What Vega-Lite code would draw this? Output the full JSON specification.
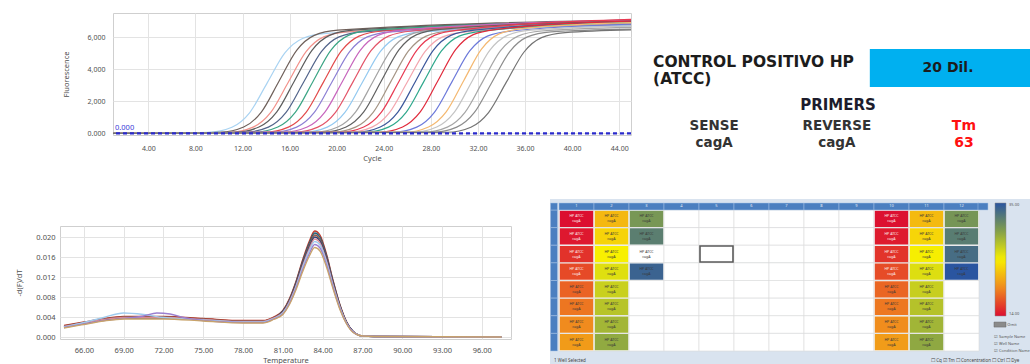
{
"$schema":"https://vega.github.io/schema/vega-lite/v6.json",
"padding":{"left":15,"top":12,"right":0,"bottom":0},
"background":"white",
"spacing":37,
"config":{"font":"Noto Sans","view":{"stroke":null},
"axis":{"labelFont":"Noto Sans","titleFont":"Noto Sans","labelFontSize":7,"titleFontSize":7.5,"titleFontWeight":"normal","labelColor":"#505050","titleColor":"#505050","gridColor":"#e3e3e3","domain":false,"ticks":false}},
"datasets":{
"amp":[
{"w":"01","c":1,"f":0},{"w":"01","c":9.1,"f":69},{"w":"01","c":11.1,"f":384},{"w":"01","c":12.6,"f":1285},{"w":"01","c":14.1,"f":3150},{"w":"01","c":15.6,"f":5015},{"w":"01","c":17.1,"f":5916},{"w":"01","c":19.1,"f":6231},{"w":"01","c":45,"f":6900},
{"w":"02","c":1,"f":0},{"w":"02","c":10.1,"f":72},{"w":"02","c":12.1,"f":397},{"w":"02","c":13.6,"f":1326},{"w":"02","c":15.1,"f":3250},{"w":"02","c":16.6,"f":5174},{"w":"02","c":18.1,"f":6104},{"w":"02","c":20.1,"f":6429},{"w":"02","c":45,"f":7050},
{"w":"03","c":1,"f":0},{"w":"03","c":10.9,"f":70},{"w":"03","c":12.9,"f":390},{"w":"03","c":14.4,"f":1306},{"w":"03","c":15.9,"f":3200},{"w":"03","c":17.4,"f":5094},{"w":"03","c":18.9,"f":6010},{"w":"03","c":20.9,"f":6330},{"w":"03","c":45,"f":6950},
{"w":"04","c":1,"f":0},{"w":"04","c":11.4,"f":72},{"w":"04","c":13.4,"f":397},{"w":"04","c":14.9,"f":1326},{"w":"04","c":16.4,"f":3250},{"w":"04","c":17.9,"f":5174},{"w":"04","c":19.4,"f":6104},{"w":"04","c":21.4,"f":6429},{"w":"04","c":45,"f":7000},
{"w":"05","c":1,"f":0},{"w":"05","c":12.2,"f":70},{"w":"05","c":14.2,"f":390},{"w":"05","c":15.7,"f":1306},{"w":"05","c":17.2,"f":3200},{"w":"05","c":18.7,"f":5094},{"w":"05","c":20.2,"f":6010},{"w":"05","c":22.2,"f":6330},{"w":"05","c":45,"f":6800},
{"w":"06","c":1,"f":0},{"w":"06","c":13,"f":72},{"w":"06","c":15,"f":397},{"w":"06","c":16.5,"f":1326},{"w":"06","c":18,"f":3250},{"w":"06","c":19.5,"f":5174},{"w":"06","c":21,"f":6104},{"w":"06","c":23,"f":6429},{"w":"06","c":45,"f":7000},
{"w":"07","c":1,"f":0},{"w":"07","c":13.9,"f":71},{"w":"07","c":15.9,"f":393},{"w":"07","c":17.4,"f":1316},{"w":"07","c":18.9,"f":3225},{"w":"07","c":20.4,"f":5134},{"w":"07","c":21.9,"f":6057},{"w":"07","c":23.9,"f":6379},{"w":"07","c":45,"f":6900},
{"w":"08","c":1,"f":0},{"w":"08","c":14.6,"f":70},{"w":"08","c":16.6,"f":390},{"w":"08","c":18.1,"f":1306},{"w":"08","c":19.6,"f":3200},{"w":"08","c":21.1,"f":5094},{"w":"08","c":22.6,"f":6010},{"w":"08","c":24.6,"f":6330},{"w":"08","c":45,"f":6750},
{"w":"09","c":1,"f":0},{"w":"09","c":15.5,"f":72},{"w":"09","c":17.5,"f":397},{"w":"09","c":19,"f":1326},{"w":"09","c":20.5,"f":3250},{"w":"09","c":22,"f":5174},{"w":"09","c":23.5,"f":6104},{"w":"09","c":25.5,"f":6429},{"w":"09","c":45,"f":7050},
{"w":"10","c":1,"f":0},{"w":"10","c":16.4,"f":71},{"w":"10","c":18.4,"f":393},{"w":"10","c":19.9,"f":1316},{"w":"10","c":21.4,"f":3225},{"w":"10","c":22.9,"f":5134},{"w":"10","c":24.4,"f":6057},{"w":"10","c":26.4,"f":6379},{"w":"10","c":45,"f":6950},
{"w":"11","c":1,"f":0},{"w":"11","c":17.2,"f":70},{"w":"11","c":19.2,"f":390},{"w":"11","c":20.7,"f":1306},{"w":"11","c":22.2,"f":3200},{"w":"11","c":23.7,"f":5094},{"w":"11","c":25.2,"f":6010},{"w":"11","c":27.2,"f":6330},{"w":"11","c":45,"f":6700},
{"w":"12","c":1,"f":0},{"w":"12","c":18.1,"f":72},{"w":"12","c":20.1,"f":397},{"w":"12","c":21.6,"f":1326},{"w":"12","c":23.1,"f":3250},{"w":"12","c":24.6,"f":5174},{"w":"12","c":26.1,"f":6104},{"w":"12","c":28.1,"f":6429},{"w":"12","c":45,"f":6900},
{"w":"13","c":1,"f":0},{"w":"13","c":18.8,"f":72},{"w":"13","c":20.8,"f":400},{"w":"13","c":22.3,"f":1336},{"w":"13","c":23.8,"f":3275},{"w":"13","c":25.3,"f":5214},{"w":"13","c":26.8,"f":6150},{"w":"13","c":28.8,"f":6478},{"w":"13","c":45,"f":7000},
{"w":"14","c":1,"f":0},{"w":"14","c":19.6,"f":71},{"w":"14","c":21.6,"f":393},{"w":"14","c":23.1,"f":1316},{"w":"14","c":24.6,"f":3225},{"w":"14","c":26.1,"f":5134},{"w":"14","c":27.6,"f":6057},{"w":"14","c":29.6,"f":6379},{"w":"14","c":45,"f":6800},
{"w":"15","c":1,"f":0},{"w":"15","c":20.3,"f":72},{"w":"15","c":22.3,"f":397},{"w":"15","c":23.8,"f":1326},{"w":"15","c":25.3,"f":3250},{"w":"15","c":26.8,"f":5174},{"w":"15","c":28.3,"f":6104},{"w":"15","c":30.3,"f":6429},{"w":"15","c":45,"f":7100},
{"w":"16","c":1,"f":0},{"w":"16","c":21,"f":70},{"w":"16","c":23,"f":390},{"w":"16","c":24.5,"f":1306},{"w":"16","c":26,"f":3200},{"w":"16","c":27.5,"f":5094},{"w":"16","c":29,"f":6010},{"w":"16","c":31,"f":6330},{"w":"16","c":45,"f":6850},
{"w":"17","c":1,"f":0},{"w":"17","c":21.7,"f":72},{"w":"17","c":23.7,"f":397},{"w":"17","c":25.2,"f":1326},{"w":"17","c":26.7,"f":3250},{"w":"17","c":28.2,"f":5174},{"w":"17","c":29.7,"f":6104},{"w":"17","c":31.7,"f":6429},{"w":"17","c":45,"f":6950},
{"w":"18","c":1,"f":0},{"w":"18","c":22.4,"f":71},{"w":"18","c":24.4,"f":393},{"w":"18","c":25.9,"f":1316},{"w":"18","c":27.4,"f":3225},{"w":"18","c":28.9,"f":5134},{"w":"18","c":30.4,"f":6057},{"w":"18","c":32.4,"f":6379},{"w":"18","c":45,"f":6900},
{"w":"19","c":1,"f":0},{"w":"19","c":23.6,"f":72},{"w":"19","c":25.6,"f":400},{"w":"19","c":27.1,"f":1336},{"w":"19","c":28.6,"f":3275},{"w":"19","c":30.1,"f":5214},{"w":"19","c":31.6,"f":6150},{"w":"19","c":33.6,"f":6478},{"w":"19","c":45,"f":7000},
{"w":"20","c":1,"f":0},{"w":"20","c":24.8,"f":71},{"w":"20","c":26.8,"f":393},{"w":"20","c":28.3,"f":1316},{"w":"20","c":29.8,"f":3225},{"w":"20","c":31.3,"f":5134},{"w":"20","c":32.8,"f":6057},{"w":"20","c":34.8,"f":6379},{"w":"20","c":45,"f":6800},
{"w":"21","c":1,"f":0},{"w":"21","c":25.8,"f":73},{"w":"21","c":27.8,"f":403},{"w":"21","c":29.3,"f":1346},{"w":"21","c":30.8,"f":3300},{"w":"21","c":32.3,"f":5254},{"w":"21","c":33.8,"f":6197},{"w":"21","c":35.8,"f":6527},{"w":"21","c":45,"f":6900},
{"w":"22","c":1,"f":0},{"w":"22","c":26.5,"f":72},{"w":"22","c":28.5,"f":397},{"w":"22","c":30,"f":1326},{"w":"22","c":31.5,"f":3250},{"w":"22","c":33,"f":5174},{"w":"22","c":34.5,"f":6104},{"w":"22","c":36.5,"f":6429},{"w":"22","c":45,"f":6700},
{"w":"23","c":1,"f":0},{"w":"23","c":27.4,"f":71},{"w":"23","c":29.4,"f":393},{"w":"23","c":30.9,"f":1316},{"w":"23","c":32.4,"f":3225},{"w":"23","c":33.9,"f":5134},{"w":"23","c":35.4,"f":6057},{"w":"23","c":37.4,"f":6379},{"w":"23","c":45,"f":6600},
{"w":"24","c":1,"f":0},{"w":"24","c":28.2,"f":70},{"w":"24","c":30.2,"f":390},{"w":"24","c":31.7,"f":1306},{"w":"24","c":33.2,"f":3200},{"w":"24","c":34.7,"f":5094},{"w":"24","c":36.2,"f":6010},{"w":"24","c":38.2,"f":6330},{"w":"24","c":45,"f":6500},
{"w":"25","c":1,"f":0},{"w":"25","c":29.4,"f":70},{"w":"25","c":31.4,"f":387},{"w":"25","c":32.9,"f":1295},{"w":"25","c":34.4,"f":3175},{"w":"25","c":35.9,"f":5055},{"w":"25","c":37.4,"f":5963},{"w":"25","c":39.4,"f":6280},{"w":"25","c":45,"f":6450}
],
"melt":[
{"k":"m1","t":64.5,"v":0.0023},{"k":"m1","t":66,"v":0.003},{"k":"m1","t":67.5,"v":0.0037},{"k":"m1","t":69,"v":0.0041},{"k":"m1","t":72,"v":0.0041},{"k":"m1","t":75,"v":0.0037},{"k":"m1","t":78,"v":0.0033},{"k":"m1","t":79.5,"v":0.0033},{"k":"m1","t":80.3,"v":0.004},{"k":"m1","t":81,"v":0.0053},{"k":"m1","t":81.5,"v":0.0077},{"k":"m1","t":82,"v":0.0112},{"k":"m1","t":82.5,"v":0.0155},{"k":"m1","t":83,"v":0.0192},{"k":"m1","t":83.4,"v":0.0212},{"k":"m1","t":83.8,"v":0.0204},{"k":"m1","t":84.3,"v":0.0165},{"k":"m1","t":84.8,"v":0.0112},{"k":"m1","t":85.3,"v":0.0065},{"k":"m1","t":85.8,"v":0.0031},{"k":"m1","t":86.3,"v":0.0011},{"k":"m1","t":87,"v":0.0002},{"k":"m1","t":88,"v":0.0001},{"k":"m1","t":97.5,"v":0},
{"k":"m2","t":64.5,"v":0.0021},{"k":"m2","t":66,"v":0.0028},{"k":"m2","t":67.5,"v":0.0035},{"k":"m2","t":69,"v":0.0039},{"k":"m2","t":72,"v":0.0039},{"k":"m2","t":75,"v":0.0035},{"k":"m2","t":78,"v":0.0031},{"k":"m2","t":79.5,"v":0.0031},{"k":"m2","t":80.3,"v":0.0038},{"k":"m2","t":81,"v":0.0052},{"k":"m2","t":81.5,"v":0.0075},{"k":"m2","t":82,"v":0.011},{"k":"m2","t":82.5,"v":0.0152},{"k":"m2","t":83,"v":0.0188},{"k":"m2","t":83.4,"v":0.0208},{"k":"m2","t":83.8,"v":0.02},{"k":"m2","t":84.3,"v":0.0162},{"k":"m2","t":84.8,"v":0.011},{"k":"m2","t":85.3,"v":0.0064},{"k":"m2","t":85.8,"v":0.003},{"k":"m2","t":86.3,"v":0.0011},{"k":"m2","t":87,"v":0.0002},{"k":"m2","t":88,"v":0.0001},{"k":"m2","t":97.5,"v":0},
{"k":"m3","t":64.5,"v":0.0022},{"k":"m3","t":66,"v":0.0029},{"k":"m3","t":67.5,"v":0.0036},{"k":"m3","t":69,"v":0.004},{"k":"m3","t":72,"v":0.004},{"k":"m3","t":75,"v":0.0036},{"k":"m3","t":78,"v":0.0032},{"k":"m3","t":79.5,"v":0.0032},{"k":"m3","t":80.3,"v":0.0039},{"k":"m3","t":81,"v":0.0051},{"k":"m3","t":81.5,"v":0.0074},{"k":"m3","t":82,"v":0.0108},{"k":"m3","t":82.5,"v":0.0149},{"k":"m3","t":83,"v":0.0184},{"k":"m3","t":83.4,"v":0.0204},{"k":"m3","t":83.8,"v":0.0196},{"k":"m3","t":84.3,"v":0.0159},{"k":"m3","t":84.8,"v":0.0108},{"k":"m3","t":85.3,"v":0.0063},{"k":"m3","t":85.8,"v":0.0029},{"k":"m3","t":86.3,"v":0.0011},{"k":"m3","t":87,"v":0.0002},{"k":"m3","t":88,"v":0.0001},{"k":"m3","t":97.5,"v":0},
{"k":"m4","t":64.5,"v":0.002},{"k":"m4","t":66,"v":0.0027},{"k":"m4","t":67.5,"v":0.0034},{"k":"m4","t":69,"v":0.0038},{"k":"m4","t":72,"v":0.0038},{"k":"m4","t":75,"v":0.0034},{"k":"m4","t":78,"v":0.003},{"k":"m4","t":79.5,"v":0.003},{"k":"m4","t":80.3,"v":0.0037},{"k":"m4","t":81,"v":0.005},{"k":"m4","t":81.5,"v":0.0072},{"k":"m4","t":82,"v":0.0106},{"k":"m4","t":82.5,"v":0.0146},{"k":"m4","t":83,"v":0.018},{"k":"m4","t":83.4,"v":0.02},{"k":"m4","t":83.8,"v":0.0192},{"k":"m4","t":84.3,"v":0.0156},{"k":"m4","t":84.8,"v":0.0106},{"k":"m4","t":85.3,"v":0.0061},{"k":"m4","t":85.8,"v":0.0029},{"k":"m4","t":86.3,"v":0.0011},{"k":"m4","t":87,"v":0.0002},{"k":"m4","t":88,"v":0.0001},{"k":"m4","t":97.5,"v":0},
{"k":"m5","t":64.5,"v":0.0021},{"k":"m5","t":66,"v":0.0028},{"k":"m5","t":67.5,"v":0.0035},{"k":"m5","t":69,"v":0.0039},{"k":"m5","t":72,"v":0.0039},{"k":"m5","t":75,"v":0.0035},{"k":"m5","t":78,"v":0.0031},{"k":"m5","t":79.5,"v":0.0031},{"k":"m5","t":80.3,"v":0.0038},{"k":"m5","t":81,"v":0.0049},{"k":"m5","t":81.5,"v":0.0071},{"k":"m5","t":82,"v":0.0103},{"k":"m5","t":82.5,"v":0.0143},{"k":"m5","t":83,"v":0.0177},{"k":"m5","t":83.4,"v":0.0196},{"k":"m5","t":83.8,"v":0.0188},{"k":"m5","t":84.3,"v":0.0152},{"k":"m5","t":84.8,"v":0.0103},{"k":"m5","t":85.3,"v":0.006},{"k":"m5","t":85.8,"v":0.0028},{"k":"m5","t":86.3,"v":0.001},{"k":"m5","t":87,"v":0.0002},{"k":"m5","t":88,"v":0.0001},{"k":"m5","t":97.5,"v":0},
{"k":"m6","t":64.5,"v":0.002},{"k":"m6","t":66,"v":0.0029},{"k":"m6","t":67.5,"v":0.0039},{"k":"m6","t":69,"v":0.0048},{"k":"m6","t":70.5,"v":0.0045},{"k":"m6","t":72,"v":0.0039},{"k":"m6","t":75,"v":0.0034},{"k":"m6","t":78,"v":0.003},{"k":"m6","t":79.5,"v":0.003},{"k":"m6","t":80.3,"v":0.0037},{"k":"m6","t":81,"v":0.0048},{"k":"m6","t":81.5,"v":0.0069},{"k":"m6","t":82,"v":0.0101},{"k":"m6","t":82.5,"v":0.014},{"k":"m6","t":83,"v":0.0173},{"k":"m6","t":83.4,"v":0.0191},{"k":"m6","t":83.8,"v":0.0184},{"k":"m6","t":84.3,"v":0.0149},{"k":"m6","t":84.8,"v":0.0101},{"k":"m6","t":85.3,"v":0.0059},{"k":"m6","t":85.8,"v":0.0028},{"k":"m6","t":86.3,"v":0.001},{"k":"m6","t":87,"v":0.0002},{"k":"m6","t":88,"v":0.0001},{"k":"m6","t":97.5,"v":0},
{"k":"m7","t":64.5,"v":0.0019},{"k":"m7","t":66,"v":0.0026},{"k":"m7","t":67.5,"v":0.0033},{"k":"m7","t":69,"v":0.0037},{"k":"m7","t":70.5,"v":0.0042},{"k":"m7","t":71.5,"v":0.0048},{"k":"m7","t":72.5,"v":0.0046},{"k":"m7","t":73.5,"v":0.0039},{"k":"m7","t":75,"v":0.0033},{"k":"m7","t":78,"v":0.0029},{"k":"m7","t":79.5,"v":0.0029},{"k":"m7","t":80.3,"v":0.0036},{"k":"m7","t":81,"v":0.0046},{"k":"m7","t":81.5,"v":0.0067},{"k":"m7","t":82,"v":0.0098},{"k":"m7","t":82.5,"v":0.0135},{"k":"m7","t":83,"v":0.0167},{"k":"m7","t":83.4,"v":0.0185},{"k":"m7","t":83.8,"v":0.0178},{"k":"m7","t":84.3,"v":0.0144},{"k":"m7","t":84.8,"v":0.0098},{"k":"m7","t":85.3,"v":0.0057},{"k":"m7","t":85.8,"v":0.0027},{"k":"m7","t":86.3,"v":0.001},{"k":"m7","t":87,"v":0.0002},{"k":"m7","t":88,"v":0.0001},{"k":"m7","t":97.5,"v":0},
{"k":"m8","t":64.5,"v":0.0018},{"k":"m8","t":66,"v":0.0025},{"k":"m8","t":67.5,"v":0.0032},{"k":"m8","t":69,"v":0.0036},{"k":"m8","t":72,"v":0.0036},{"k":"m8","t":75,"v":0.0032},{"k":"m8","t":78,"v":0.0028},{"k":"m8","t":79.5,"v":0.0028},{"k":"m8","t":80.3,"v":0.0035},{"k":"m8","t":81,"v":0.0045},{"k":"m8","t":81.5,"v":0.0065},{"k":"m8","t":82,"v":0.0095},{"k":"m8","t":82.5,"v":0.0131},{"k":"m8","t":83,"v":0.0162},{"k":"m8","t":83.4,"v":0.0179},{"k":"m8","t":83.8,"v":0.0172},{"k":"m8","t":84.3,"v":0.0139},{"k":"m8","t":84.8,"v":0.0095},{"k":"m8","t":85.3,"v":0.0055},{"k":"m8","t":85.8,"v":0.0026},{"k":"m8","t":86.3,"v":0.0009},{"k":"m8","t":87,"v":0.0002},{"k":"m8","t":88,"v":0.0001},{"k":"m8","t":97.5,"v":0}
],
"wells":[
{"r":1,"c":1,"smp":"HP ATCC","tg":"cagA","ct":14.0},{"r":2,"c":1,"smp":"HP ATCC","tg":"cagA","ct":14.4},{"r":3,"c":1,"smp":"HP ATCC","tg":"cagA","ct":15.5},{"r":4,"c":1,"smp":"HP ATCC","tg":"cagA","ct":16.5},{"r":5,"c":1,"smp":"HP ATCC","tg":"cagA","ct":17.6},{"r":6,"c":1,"smp":"HP ATCC","tg":"cagA","ct":18.4},{"r":7,"c":1,"smp":"HP ATCC","tg":"cagA","ct":19.3},{"r":8,"c":1,"smp":"HP ATCC","tg":"cagA","ct":20.1},
{"r":1,"c":2,"smp":"HP ATCC","tg":"cagA","ct":21.6},{"r":2,"c":2,"smp":"HP ATCC","tg":"cagA","ct":23.0},{"r":3,"c":2,"smp":"HP ATCC","tg":"cagA","ct":24.5},{"r":4,"c":2,"smp":"HP ATCC","tg":"cagA","ct":25.6},{"r":5,"c":2,"smp":"HP ATCC","tg":"cagA","ct":26.6},{"r":6,"c":2,"smp":"HP ATCC","tg":"cagA","ct":27.4},{"r":7,"c":2,"smp":"HP ATCC","tg":"cagA","ct":28.3},{"r":8,"c":2,"smp":"HP ATCC","tg":"cagA","ct":29.1},
{"r":1,"c":3,"smp":"HP ATCC","tg":"cagA","ct":30.4},{"r":2,"c":3,"smp":"HP ATCC","tg":"cagA","ct":32.1},{"r":3,"c":3,"smp":"HP ATCC","tg":"cagA","ct":null},{"r":4,"c":3,"smp":"HP ATCC","tg":"cagA","ct":34.0},{"r":5,"c":3},{"r":6,"c":3},{"r":7,"c":3},{"r":8,"c":3},
{"r":1,"c":4},{"r":2,"c":4},{"r":3,"c":4},{"r":4,"c":4},{"r":5,"c":4},{"r":6,"c":4},{"r":7,"c":4},{"r":8,"c":4},
{"r":1,"c":5},{"r":2,"c":5},{"r":3,"c":5,"sel":true},{"r":4,"c":5},{"r":5,"c":5},{"r":6,"c":5},{"r":7,"c":5},{"r":8,"c":5},
{"r":1,"c":6},{"r":2,"c":6},{"r":3,"c":6},{"r":4,"c":6},{"r":5,"c":6},{"r":6,"c":6},{"r":7,"c":6},{"r":8,"c":6},
{"r":1,"c":7},{"r":2,"c":7},{"r":3,"c":7},{"r":4,"c":7},{"r":5,"c":7},{"r":6,"c":7},{"r":7,"c":7},{"r":8,"c":7},
{"r":1,"c":8},{"r":2,"c":8},{"r":3,"c":8},{"r":4,"c":8},{"r":5,"c":8},{"r":6,"c":8},{"r":7,"c":8},{"r":8,"c":8},
{"r":1,"c":9},{"r":2,"c":9},{"r":3,"c":9},{"r":4,"c":9},{"r":5,"c":9},{"r":6,"c":9},{"r":7,"c":9},{"r":8,"c":9},
{"r":1,"c":10,"smp":"HP ATCC","tg":"cagA","ct":14.1},{"r":2,"c":10,"smp":"HP ATCC","tg":"cagA","ct":14.5},{"r":3,"c":10,"smp":"HP ATCC","tg":"cagA","ct":15.6},{"r":4,"c":10,"smp":"HP ATCC","tg":"cagA","ct":16.6},{"r":5,"c":10,"smp":"HP ATCC","tg":"cagA","ct":17.7},{"r":6,"c":10,"smp":"HP ATCC","tg":"cagA","ct":18.5},{"r":7,"c":10,"smp":"HP ATCC","tg":"cagA","ct":19.4},{"r":8,"c":10,"smp":"HP ATCC","tg":"cagA","ct":20.2},
{"r":1,"c":11,"smp":"HP ATCC","tg":"cagA","ct":21.7},{"r":2,"c":11,"smp":"HP ATCC","tg":"cagA","ct":23.1},{"r":3,"c":11,"smp":"HP ATCC","tg":"cagA","ct":24.6},{"r":4,"c":11,"smp":"HP ATCC","tg":"cagA","ct":25.7},{"r":5,"c":11,"smp":"HP ATCC","tg":"cagA","ct":26.7},{"r":6,"c":11,"smp":"HP ATCC","tg":"cagA","ct":27.5},{"r":7,"c":11,"smp":"HP ATCC","tg":"cagA","ct":28.4},{"r":8,"c":11,"smp":"HP ATCC","tg":"cagA","ct":29.2},
{"r":1,"c":12,"smp":"HP ATCC","tg":"cagA","ct":30.5},{"r":2,"c":12,"smp":"HP ATCC","tg":"cagA","ct":32.2},{"r":3,"c":12,"smp":"HP ATCC","tg":"cagA","ct":33.3},{"r":4,"c":12,"smp":"HP ATCC","tg":"cagA","ct":35.0},{"r":5,"c":12},{"r":6,"c":12},{"r":7,"c":12},{"r":8,"c":12}
]
},
"vconcat":[
{"spacing":0,"hconcat":[
{"width":1,"height":122,"data":{"values":[{}]},"mark":{"type":"text","text":""},"encoding":{}},
{"width":518,"height":122,"view":{"stroke":"#cfcfcf"},
"layer":[
{"data":{"name":"amp"},
"mark":{"type":"line","interpolate":"monotone","strokeWidth":1.2},
"encoding":{
"x":{"field":"c","type":"quantitative","scale":{"domain":[1,45],"nice":false,"zero":false},"axis":{"values":[4,8,12,16,20,24,28,32,36,40,44],"format":".2f","title":"Cycle","labelPadding":9,"titlePadding":3}},
"y":{"field":"f","type":"quantitative","scale":{"domain":[-100,7500],"nice":false,"zero":false},"axis":{"values":[0,2000,4000,6000],"labelExpr":"datum.value == 0 ? '0.000' : format(datum.value, ',')","title":"Fluorescence","labelPadding":8,"titlePadding":17}},
"color":{"field":"w","type":"nominal","legend":null,"scale":{"range":["#a9d3f2","#6f605a","#f2918a","#5c5c5c","#52648a","#3ba584","#e24a4a","#8c7fd4","#c765bd","#e35468","#93c9f0","#a3a3a3","#606060","#a49484","#e83a52","#f3a5ad","#3b579b","#2fa88c","#e02a3c","#6c79da","#f4b870","#c4c4c4","#a5a5a5","#8c8c8c","#737373"]}}}},
{"data":{"values":[{"thr":0}]},
"mark":{"type":"rule","color":"#2a2acb","strokeWidth":2.2,"strokeDash":[4,3]},
"encoding":{"y":{"field":"thr","type":"quantitative","scale":{"domain":[-100,7500],"nice":false,"zero":false},"axis":{"values":[0,2000,4000,6000],"labelExpr":"datum.value == 0 ? '0.000' : format(datum.value, ',')","title":"Fluorescence","labelPadding":8,"titlePadding":17}}}},
{"data":{"values":[{"thr":0}]},
"mark":{"type":"text","align":"left","baseline":"bottom","dx":2,"dy":-1,"fontSize":7.5,"color":"#3a3ad8"},
"encoding":{
"x":{"datum":1,"type":"quantitative","scale":{"domain":[1,45],"nice":false,"zero":false},"axis":{"values":[4,8,12,16,20,24,28,32,36,40,44],"format":".2f","title":"Cycle","labelPadding":9,"titlePadding":3}},
"y":{"field":"thr","type":"quantitative","scale":{"domain":[-100,7500],"nice":false,"zero":false},"axis":{"values":[0,2000,4000,6000],"labelExpr":"datum.value == 0 ? '0.000' : format(datum.value, ',')","title":"Fluorescence","labelPadding":8,"titlePadding":17}},
"text":{"field":"thr","type":"quantitative","format":".3f"}}}
]},
{"width":397,"height":122,
"data":{"values":[{"sample":"CONTROL POSITIVO HP","strain":"(ATCC)","dil":"20 Dil.","sense":"cagA","reverse":"cagA","tm":63}]},
"layer":[
{"mark":{"type":"rect","color":"#00b0f0"},"encoding":{"x":{"datum":59.4,"type":"quantitative","scale":{"domain":[0,100]},"axis":null},"x2":{"datum":100},"y":{"datum":70.5,"type":"quantitative","scale":{"domain":[0,100]},"axis":null},"y2":{"datum":39.3}}},
{"mark":{"type":"text","align":"left","baseline":"middle","font":"DejaVu Sans","fontWeight":"bold","fontSize":15.5,"color":"#1c1c1c"},"encoding":{"x":{"datum":4.8,"type":"quantitative","scale":{"domain":[0,100]},"axis":null},"y":{"datum":59.8,"type":"quantitative","scale":{"domain":[0,100]},"axis":null},"text":{"field":"sample"}}},
{"mark":{"type":"text","align":"left","baseline":"middle","font":"DejaVu Sans","fontWeight":"bold","fontSize":15.5,"color":"#1c1c1c"},"encoding":{"x":{"datum":4.8,"type":"quantitative","scale":{"domain":[0,100]},"axis":null},"y":{"datum":45.9,"type":"quantitative","scale":{"domain":[0,100]},"axis":null},"text":{"field":"strain"}}},
{"mark":{"type":"text","align":"center","baseline":"middle","font":"DejaVu Sans","fontWeight":"bold","fontSize":14,"color":"#1c1c1c"},"encoding":{"x":{"datum":79.1,"type":"quantitative","scale":{"domain":[0,100]},"axis":null},"y":{"datum":54.9,"type":"quantitative","scale":{"domain":[0,100]},"axis":null},"text":{"field":"dil"}}},
{"mark":{"type":"text","text":"PRIMERS","align":"center","baseline":"middle","font":"DejaVu Sans","fontWeight":"bold","fontSize":15,"color":"#1c1c2c"},"encoding":{"x":{"datum":51.4,"type":"quantitative","scale":{"domain":[0,100]},"axis":null},"y":{"datum":24.6,"type":"quantitative","scale":{"domain":[0,100]},"axis":null}}},
{"mark":{"type":"text","text":"SENSE","align":"center","baseline":"middle","font":"DejaVu Sans","fontWeight":"bold","fontSize":13.5,"color":"#333333"},"encoding":{"x":{"datum":20.2,"type":"quantitative","scale":{"domain":[0,100]},"axis":null},"y":{"datum":7.4,"type":"quantitative","scale":{"domain":[0,100]},"axis":null}}},
{"mark":{"type":"text","align":"center","baseline":"middle","font":"DejaVu Sans","fontWeight":"bold","fontSize":13.5,"color":"#333333"},"encoding":{"x":{"datum":20.2,"type":"quantitative","scale":{"domain":[0,100]},"axis":null},"y":{"datum":-6.6,"type":"quantitative","scale":{"domain":[0,100]},"axis":null},"text":{"field":"sense"}}},
{"mark":{"type":"text","text":"REVERSE","align":"center","baseline":"middle","font":"DejaVu Sans","fontWeight":"bold","fontSize":13.5,"color":"#333333"},"encoding":{"x":{"datum":51.1,"type":"quantitative","scale":{"domain":[0,100]},"axis":null},"y":{"datum":7.4,"type":"quantitative","scale":{"domain":[0,100]},"axis":null}}},
{"mark":{"type":"text","align":"center","baseline":"middle","font":"DejaVu Sans","fontWeight":"bold","fontSize":13.5,"color":"#333333"},"encoding":{"x":{"datum":51.1,"type":"quantitative","scale":{"domain":[0,100]},"axis":null},"y":{"datum":-6.6,"type":"quantitative","scale":{"domain":[0,100]},"axis":null},"text":{"field":"reverse"}}},
{"mark":{"type":"text","text":"Tm","align":"center","baseline":"middle","font":"DejaVu Sans","fontWeight":"bold","fontSize":14,"color":"#ff1010"},"encoding":{"x":{"datum":83.1,"type":"quantitative","scale":{"domain":[0,100]},"axis":null},"y":{"datum":7.4,"type":"quantitative","scale":{"domain":[0,100]},"axis":null}}},
{"mark":{"type":"text","align":"center","baseline":"middle","font":"DejaVu Sans","fontWeight":"bold","fontSize":14,"color":"#ff1010"},"encoding":{"x":{"datum":83.1,"type":"quantitative","scale":{"domain":[0,100]},"axis":null},"y":{"datum":-6.6,"type":"quantitative","scale":{"domain":[0,100]},"axis":null},"text":{"field":"tm","type":"quantitative"}}}
]}
]},
{"spacing":38,"hconcat":[
{"width":451,"height":113,"view":{"stroke":"#cfcfcf"},
"data":{"name":"melt"},
"mark":{"type":"line","interpolate":"monotone","strokeWidth":1.3},
"encoding":{
"x":{"field":"t","type":"quantitative","scale":{"domain":[64.2,98.2],"nice":false,"zero":false},"axis":{"values":[66,69,72,75,78,81,84,87,90,93,96],"format":".2f","title":"Temperature","labelPadding":7,"titlePadding":3,"labelFontSize":7.5}},
"y":{"field":"v","type":"quantitative","scale":{"domain":[-0.0004,0.0222],"nice":false,"zero":false},"axis":{"values":[0,0.004,0.008,0.012,0.016,0.02],"format":".3f","title":"-d(F)/dT","labelPadding":5,"titlePadding":12,"labelFontSize":7.5}},
"color":{"field":"k","type":"nominal","legend":null,"scale":{"range":["#c0392b","#1f6078","#8a5446","#2e3f72","#d98a94","#9fcbee","#9b7fcf","#c8a36a"]}}}},
{"width":481,"height":138,
"data":{"name":"wells"},
"layer":[
{"transform":[{"filter":"datum.c == 1 && datum.r == 1"}],
"mark":{"type":"rect","fill":"#d9e3ef"},
"encoding":{"x":{"datum":0.243,"type":"quantitative","scale":{"domain":[0.243,13.986],"nice":false,"zero":false},"axis":null},"x2":{"datum":13.986},"y":{"datum":-0.124,"type":"quantitative","scale":{"domain":[1.4077,9.2374],"nice":false,"zero":false,"reverse":true},"axis":null},"y2":{"datum":9.2374}}},
{"mark":{"type":"rect","width":35,"height":17.6,"fill":"#ffffff","stroke":"#dcdcdc","strokeWidth":0.6},
"encoding":{"x":{"field":"c","type":"quantitative","scale":{"domain":[0.243,13.986],"nice":false,"zero":false},"axis":null},"y":{"field":"r","type":"quantitative","scale":{"domain":[1.4077,9.2374],"nice":false,"zero":false,"reverse":true},"axis":null}}},
{"transform":[{"filter":"datum.smp != null"}],
"mark":{"type":"rect","width":33.4,"height":16.2},
"encoding":{"x":{"field":"c","type":"quantitative","scale":{"domain":[0.243,13.986],"nice":false,"zero":false},"axis":null},"y":{"field":"r","type":"quantitative","scale":{"domain":[1.4077,9.2374],"nice":false,"zero":false,"reverse":true},"axis":null},
"color":{"condition":{"test":"datum.ct == null","value":"#858585"},"field":"ct","type":"quantitative","scale":{"domain":[14,35],"range":["#dc0f30","#f08a1e","#f8f000","#83a04a","#2a55a0"],"interpolate":"rgb"},
"legend":{"title":null,"orient":"none","legendX":445,"legendY":-23,"direction":"vertical","gradientLength":113,"gradientThickness":11,"labelFontSize":4,"labelColor":"#555555","values":[14,35],"format":".2f","gradientStrokeColor":"#8a8a8a","gradientStrokeWidth":0.5,"labelOffset":3}}}},
{"transform":[{"filter":"datum.sel == true"}],
"mark":{"type":"rect","width":33,"height":16,"fill":"#ffffff","stroke":"#5a5a5a","strokeWidth":1.6},
"encoding":{"x":{"field":"c","type":"quantitative","scale":{"domain":[0.243,13.986],"nice":false,"zero":false},"axis":null},"y":{"field":"r","type":"quantitative","scale":{"domain":[1.4077,9.2374],"nice":false,"zero":false,"reverse":true},"axis":null}}},
{"transform":[{"filter":"datum.r == 1"}],
"mark":{"type":"rect","width":35,"height":7,"fill":"#4b7fc0","stroke":"#a8c4e6","strokeWidth":0.5},
"encoding":{"x":{"field":"c","type":"quantitative","scale":{"domain":[0.243,13.986],"nice":false,"zero":false},"axis":null},"y":{"datum":0.3,"type":"quantitative","scale":{"domain":[1.4077,9.2374],"nice":false,"zero":false,"reverse":true},"axis":null}}},
{"transform":[{"filter":"datum.r == 1"}],
"mark":{"type":"text","fontSize":4,"color":"#e6edf7","baseline":"middle"},
"encoding":{"x":{"field":"c","type":"quantitative","scale":{"domain":[0.243,13.986],"nice":false,"zero":false},"axis":null},"y":{"datum":0.3,"type":"quantitative","scale":{"domain":[1.4077,9.2374],"nice":false,"zero":false,"reverse":true},"axis":null},"text":{"field":"c","type":"quantitative"}}},
{"transform":[{"filter":"datum.c == 1"}],
"mark":{"type":"rect","width":7,"height":17.6,"fill":"#4b7fc0","stroke":"#a8c4e6","strokeWidth":0.5},
"encoding":{"x":{"datum":0.357,"type":"quantitative","scale":{"domain":[0.243,13.986],"nice":false,"zero":false},"axis":null},"y":{"field":"r","type":"quantitative","scale":{"domain":[1.4077,9.2374],"nice":false,"zero":false,"reverse":true},"axis":null}}},
{"transform":[{"filter":"datum.c == 1 && datum.r == 1"}],
"mark":{"type":"rect","width":7,"height":7,"fill":"#4b7fc0","stroke":"#a8c4e6","strokeWidth":0.5},
"encoding":{"x":{"datum":0.357,"type":"quantitative","scale":{"domain":[0.243,13.986],"nice":false,"zero":false},"axis":null},"y":{"datum":0.3,"type":"quantitative","scale":{"domain":[1.4077,9.2374],"nice":false,"zero":false,"reverse":true},"axis":null}}},
{"transform":[{"filter":"datum.c == 1 && datum.r == 1"}],
"mark":{"type":"rect","width":10,"height":7,"fill":"#4b7fc0","stroke":"#a8c4e6","strokeWidth":0.5},
"encoding":{"x":{"datum":12.614,"type":"quantitative","scale":{"domain":[0.243,13.986],"nice":false,"zero":false},"axis":null},"y":{"datum":0.3,"type":"quantitative","scale":{"domain":[1.4077,9.2374],"nice":false,"zero":false,"reverse":true},"axis":null}}},
{"transform":[{"filter":"datum.smp != null"}],
"mark":{"type":"text","fontSize":3.6,"dy":-2.5,"baseline":"middle"},
"encoding":{"x":{"field":"c","type":"quantitative","scale":{"domain":[0.243,13.986],"nice":false,"zero":false},"axis":null},"y":{"field":"r","type":"quantitative","scale":{"domain":[1.4077,9.2374],"nice":false,"zero":false,"reverse":true},"axis":null},"text":{"field":"smp"},
"color":{"condition":{"test":"datum.ct != null && datum.ct < 17.5","value":"#fbe9e9"},"value":"#3a3a3a"}}},
{"transform":[{"filter":"datum.smp != null"}],
"mark":{"type":"text","fontSize":3.6,"dy":2.5,"baseline":"middle"},
"encoding":{"x":{"field":"c","type":"quantitative","scale":{"domain":[0.243,13.986],"nice":false,"zero":false},"axis":null},"y":{"field":"r","type":"quantitative","scale":{"domain":[1.4077,9.2374],"nice":false,"zero":false,"reverse":true},"axis":null},"text":{"field":"tg"},
"color":{"condition":{"test":"datum.ct != null && datum.ct < 17.5","value":"#fbe9e9"},"value":"#3a3a3a"}}},
{"transform":[{"filter":"datum.c == 1 && datum.r == 1"}],
"mark":{"type":"rect","width":12,"height":5,"fill":"#8a8a8a","stroke":"#666666","strokeWidth":0.5},
"encoding":{"x":{"datum":13.1,"type":"quantitative","scale":{"domain":[0.243,13.986],"nice":false,"zero":false},"axis":null},"y":{"datum":7.0,"type":"quantitative","scale":{"domain":[1.4077,9.2374],"nice":false,"zero":false,"reverse":true},"axis":null}}},
{"transform":[{"filter":"datum.c == 1 && datum.r == 1"}],
"mark":{"type":"text","text":"Omit","fontSize":4,"align":"left","baseline":"middle","color":"#555555"},
"encoding":{"x":{"datum":13.31,"type":"quantitative","scale":{"domain":[0.243,13.986],"nice":false,"zero":false},"axis":null},"y":{"datum":7.0,"type":"quantitative","scale":{"domain":[1.4077,9.2374],"nice":false,"zero":false,"reverse":true},"axis":null}}},
{"transform":[{"filter":"datum.c == 1 && datum.r == 1"}],
"mark":{"type":"text","text":["☑ Sample Name","☑ Well Name","☑ Condition Name"],"lineHeight":7,"fontSize":4,"align":"left","baseline":"top","color":"#555555"},
"encoding":{"x":{"datum":12.93,"type":"quantitative","scale":{"domain":[0.243,13.986],"nice":false,"zero":false},"axis":null},"y":{"datum":7.6,"type":"quantitative","scale":{"domain":[1.4077,9.2374],"nice":false,"zero":false,"reverse":true},"axis":null}}},
{"transform":[{"filter":"datum.c == 1 && datum.r == 1"}],
"mark":{"type":"text","text":"1 Well Selected","fontSize":4.5,"align":"left","baseline":"middle","color":"#444444"},
"encoding":{"x":{"datum":0.36,"type":"quantitative","scale":{"domain":[0.243,13.986],"nice":false,"zero":false},"axis":null},"y":{"datum":9.07,"type":"quantitative","scale":{"domain":[1.4077,9.2374],"nice":false,"zero":false,"reverse":true},"axis":null}}},
{"transform":[{"filter":"datum.c == 1 && datum.r == 1"}],
"mark":{"type":"text","text":"☐ Cq   ☑ Tm   ☐ Concentration   ☐ Ctrl   ☐ Dye","fontSize":4.5,"align":"left","baseline":"middle","color":"#444444"},
"encoding":{"x":{"datum":11.13,"type":"quantitative","scale":{"domain":[0.243,13.986],"nice":false,"zero":false},"axis":null},"y":{"datum":9.07,"type":"quantitative","scale":{"domain":[1.4077,9.2374],"nice":false,"zero":false,"reverse":true},"axis":null}}}
]}
]}
]
}
